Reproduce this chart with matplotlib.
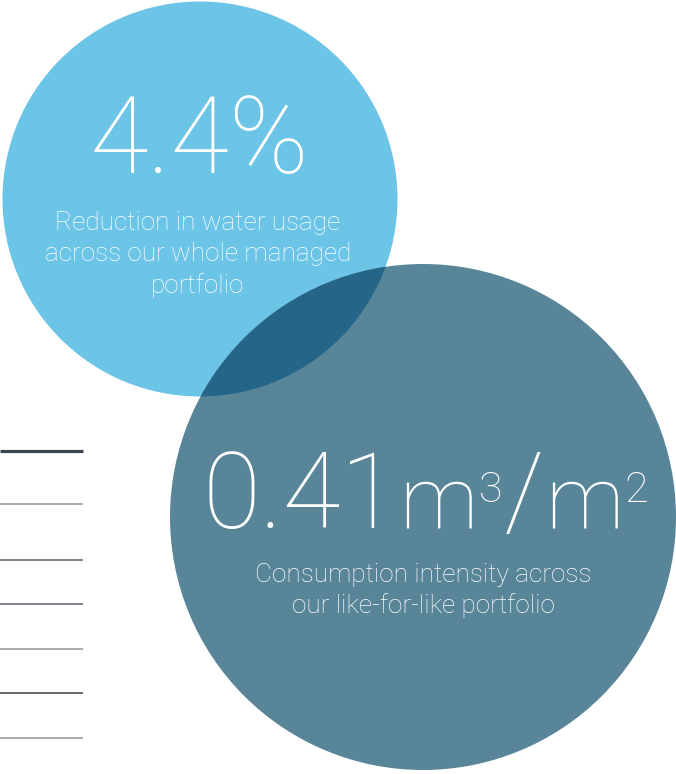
import matplotlib
matplotlib.use("Agg")
import matplotlib.pyplot as plt
from matplotlib.patches import Circle

# Headline figures and their captions
headline_values = ["4.4%", "0.41"]
intensity_units = ["m", "3", "/", "m", "2"]
captions = [
    ["Reduction in water usage", "across our whole managed", "portfolio"],
    ["Consumption intensity across", "our like-for-like portfolio"],
]

LIGHT = "#6cc4e6"
DARK = "#588598"
OVERLAP = "#256688"
FONT = ["Roboto", "DejaVu Sans"]

W, H = 676, 774
fig = plt.figure(figsize=(W / 100, H / 100), dpi=100)
ax = fig.add_axes([0, 0, 1, 1])
ax.set_xlim(0, W)
ax.set_ylim(H, 0)
ax.set_aspect("equal")
ax.axis("off")

# Table rules peeking in on the left
rules = [(451, "#3b4250", 2.3), (504, "#8f9499", 1.1), (560, "#59616b", 1.1),
         (604, "#59616b", 1.1), (649, "#8f9499", 1.1), (693, "#3a414a", 1.1),
         (738, "#8f9499", 1.1)]
for y, c, lw in rules:
    ax.plot([0, 83], [y, y], color=c, lw=lw, solid_capstyle="butt", zorder=1)

# Circles, with the overlap tinted darker
c1 = Circle((200, 199), 197.5, facecolor=LIGHT, edgecolor="none", zorder=2)
c2 = Circle((423, 517), 253, facecolor=DARK, edgecolor="none", zorder=3)
ax.add_patch(c1)
ax.add_patch(c2)
ov = Circle((200, 199), 197.5, facecolor=OVERLAP, edgecolor="none", zorder=4)
ax.add_patch(ov)
ov.set_clip_path(c2)

txt = dict(color="white", family=FONT, fontweight="light", zorder=6)

# First circle
ax.text(200, 173, headline_values[0], ha="center", va="baseline",
        fontsize=77, **txt)
for i, line in enumerate(captions[0]):
    ax.text(198, 230 + i * 31.5, line, ha="center", va="baseline",
            fontsize=18.8, **txt)

# Second circle: number with units and superscripts laid out piecewise
pieces = [(headline_values[1], 76, 0), (intensity_units[0], 63, 0),
          (intensity_units[1], 31, -26), (intensity_units[2], 76, 0),
          (intensity_units[3], 63, 0), (intensity_units[4], 31, -26)]
objs = [ax.text(0, 528 + dy, s, ha="left", va="baseline", fontsize=fs, **txt)
        for s, fs, dy in pieces]
fig.canvas.draw()
r = fig.canvas.get_renderer()
widths = [o.get_window_extent(r).width for o in objs]
gap = 1
total = sum(widths) + gap * (len(objs) - 1)
x = 425 - total / 2
for o, w in zip(objs, widths):
    o.set_x(x)
    x += w + gap

for i, line in enumerate(captions[1]):
    ax.text(423, 582 + i * 31, line, ha="center", va="baseline",
            fontsize=18.8, **txt)

fig.savefig("out.png", dpi=100)
